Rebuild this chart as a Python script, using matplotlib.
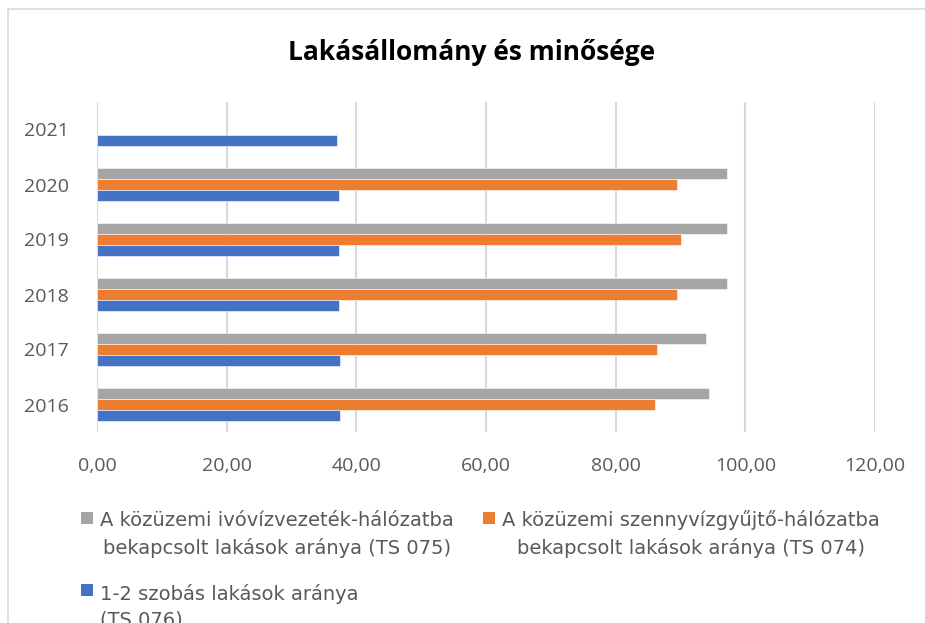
import numpy as np
import matplotlib
matplotlib.use("Agg")
import matplotlib.pyplot as plt
from matplotlib.patches import Rectangle

years = ["2016", "2017", "2018", "2019", "2020", "2021"]
ivoviz = [94.4, 93.9, 97.1, 97.1, 97.2, np.nan]      # TS 075
szennyviz = [86.0, 86.4, 89.5, 90.0, 89.4, np.nan]   # TS 074
szobas = [37.5, 37.5, 37.4, 37.4, 37.4, 37.0]        # TS 076
xticks = [0, 20, 40, 60, 80, 100, 120]

lbl_ivo = "A közüzemi ivóvízvezeték-hálózatba\nbekapcsolt lakások aránya (TS 075)"
lbl_szenny = "A közüzemi szennyvízgyűjtő-hálózatba\nbekapcsolt lakások aránya (TS 074)"
lbl_szoba = "1-2 szobás lakások aránya\n(TS 076)"

c_gray, c_orange, c_blue = "#A5A5A5", "#ED7D31", "#4472C4"
txt = "#595959"
W, H = 925, 623

fig = plt.figure(figsize=(9.25, 6.23), dpi=100)
fig.patches.append(Rectangle((8/W, -0.1), 1.2, 1 - 9/H + 0.1, transform=fig.transFigure,
                             facecolor="none", edgecolor="#D9D9D9", lw=1.2))
ax = fig.add_axes([97/W, 1 - 432/H, (875-97)/W, (432-102)/H])

y = np.arange(len(years))
h = 0.2
b_gray = ax.barh(y + h, ivoviz, height=h, color=c_gray, edgecolor="white", lw=0.4, zorder=3)
b_orange = ax.barh(y, szennyviz, height=h, color=c_orange, edgecolor="white", lw=0.4, zorder=3)
b_blue = ax.barh(y - h, szobas, height=h, color=c_blue, edgecolor="white", lw=0.4, zorder=3)

ax.set_xlim(0, 120)
ax.set_ylim(-0.5, len(years) - 0.5)
ax.set_xticks(xticks)
ax.set_xticklabels([f"{v:.2f}".replace(".", ",") for v in xticks])
ax.set_yticks(y)
ax.set_yticklabels(years)
ax.tick_params(length=0, labelsize=14, labelcolor=txt)
ax.tick_params(axis="x", pad=18)
ax.tick_params(axis="y", pad=20)
for lab in ax.get_xticklabels() + ax.get_yticklabels():
    lab.set_fontfamily(["Open Sans", "DejaVu Sans"])
ax.grid(axis="x", color="#D9D9D9", lw=1.5, zorder=0)
for s in ax.spines.values():
    s.set_visible(False)

fig.text(472/W, 1 - 53/H, "Lakásállomány és minősége", ha="center", va="center",
         fontsize=19, fontweight="bold", family=["Open Sans", "DejaVu Sans"], color="black")

# legend (square aligned with first text line, as in the reference)
entries = [
    (b_gray, lbl_ivo, 81, 518, "center"),
    (b_orange, lbl_szenny, 483, 518, "center"),
    (b_blue, lbl_szoba, 81, 590, "left"),
]
for bars, label, x0, yc, malign in entries:
    col = bars.patches[0].get_facecolor()
    fig.patches.append(Rectangle((x0/W, 1 - (yc + 6)/H), 12/W, 12/H, transform=fig.transFigure,
                                 facecolor=col, edgecolor="none"))
    fig.text((x0 + 19)/W, 1 - (yc + 7 + 29)/H, label, ha="left", va="baseline", fontsize=14,
             color=txt, multialignment=malign, linespacing=1.5,
             family=["DejaVu Sans"])

fig.savefig("out.png", dpi=100)
